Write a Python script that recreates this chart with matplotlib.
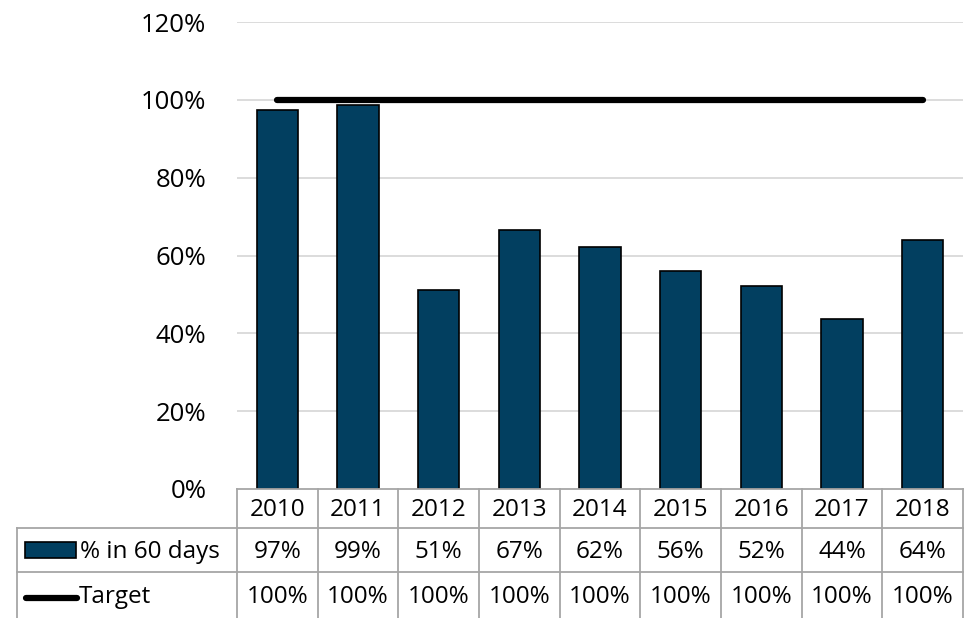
import matplotlib
matplotlib.use('Agg')
import matplotlib.pyplot as plt
from matplotlib.lines import Line2D
from matplotlib.patches import Rectangle
from matplotlib.transforms import blended_transform_factory

years = ['2010', '2011', '2012', '2013', '2014', '2015', '2016', '2017', '2018']
pct_60_days = [97.4, 98.7, 51.2, 66.6, 62.1, 56.1, 52.1, 43.6, 64.1]
target = [100, 100, 100, 100, 100, 100, 100, 100, 100]
yticks = [0, 20, 40, 60, 80, 100, 120]

BAR = '#023f60'; GRID = '#d9d9d9'; TBL = '#a6a6a6'
W, H = 979, 618
FS = 17.5
plt.rcParams['font.family'] = ['Open Sans', 'DejaVu Sans']

fig = plt.figure(figsize=(W / 100, H / 100), dpi=100)
ax = fig.add_axes([237 / W, 1 - 489 / H, (963 - 237) / W, (489 - 22) / H])
x = list(range(len(years)))
ax.bar(x, pct_60_days, width=0.51, color=BAR, edgecolor='black', lw=1.2, zorder=3)
ax.plot(x, target, color='black', lw=4.5, solid_capstyle='round', zorder=4)
ax.set_xlim(-0.5, len(years) - 0.5)
ax.set_ylim(0, 120)
ax.set_yticks(yticks)
ax.set_yticklabels([f'{t}%' for t in yticks], fontsize=18.5)
ax.tick_params(axis='y', length=0, pad=22)
ax.set_xticks([])
for s in ax.spines.values():
    s.set_visible(False)
for t in yticks[1:]:
    ax.axhline(t, color=GRID, lw=1.3, zorder=1)

# data table below the plot (x in data units, y in figure pixels)
tr = blended_transform_factory(ax.transData, fig.transFigure)
fy = lambda py: 1 - py / H
px = lambda p: p / W
rows = [489, 528, 572, 618]

def hline(x0, x1, py, trans):
    fig.add_artist(Line2D([x0, x1], [fy(py), fy(py)], color=TBL, lw=1.3, transform=trans))
def vline(xx, py0, py1, trans):
    fig.add_artist(Line2D([xx, xx], [fy(py0), fy(py1)], color=TBL, lw=1.3, transform=trans))

hline(-0.5, len(years) - 0.5, 489, tr)
for py in rows[1:3]:
    hline(px(17), px(963), py, fig.transFigure)
vline(px(17), 528, 618, fig.transFigure)
for i in range(len(years) + 1):
    vline(i - 0.5, 489, 618, tr)

for i, yr in enumerate(years):
    fig.text(i, fy(510), yr, transform=tr, ha='center', va='center', fontsize=FS)
    fig.text(i, fy(552), f'{round(pct_60_days[i])}%', transform=tr, ha='center', va='center', fontsize=FS)
    fig.text(i, fy(597), f'{target[i]}%', transform=tr, ha='center', va='center', fontsize=FS)

# legend keys inside the table
fig.add_artist(Rectangle((px(25), fy(558)), px(51), 16 / H, transform=fig.transFigure,
                         fc=BAR, ec='black', lw=1.2))
fig.text(px(80), fy(552), '% in 60 days', ha='left', va='center', fontsize=FS)
fig.add_artist(Line2D([px(26), px(77)], [fy(598), fy(598)], color='black', lw=4.5,
                      solid_capstyle='round', transform=fig.transFigure))
fig.text(px(79), fy(597), 'Target', ha='left', va='center', fontsize=FS)

fig.savefig('out.png', dpi=100)
